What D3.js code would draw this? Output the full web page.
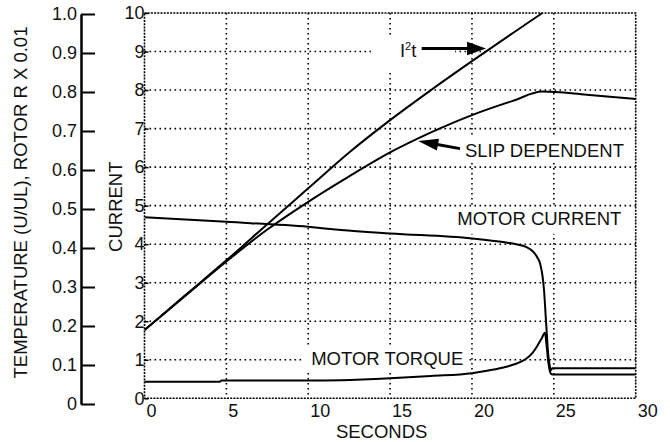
<!DOCTYPE html>
<html lang="en">
<head>
<meta charset="UTF-8">
<title>Motor starting curves</title>
<script src="https://d3js.org/d3.v7.min.js"></script>
<style>
  body { margin: 0; background: #fff; }
  svg { font-family: "Liberation Sans", Arial, sans-serif; }
  .grid line { stroke: #000; stroke-width: 1.6; stroke-dasharray: 1.6,3.4; }
  .frame { fill: none; stroke: #000; stroke-width: 1.6; stroke-dasharray: 2,1.2; }
  .curve { fill: none; stroke: #000; stroke-width: 2; }
  .axis text { font-size: 18px; fill: #111; }
  .label { font-size: 18.5px; fill: #111; }
</style>
</head>
<body>
<div id="chart"></div>
<script>
// tick values
const secTicks = [0, 5, 10, 15, 20, 25, 30];
const currentTicks = [0, 1, 2, 3, 4, 5, 6, 7, 8, 9, 10];
const tempTicks = [0, 0.1, 0.2, 0.3, 0.4, 0.5, 0.6, 0.7, 0.8, 0.9, 1.0];
const tempLabels = ["0", "0.1", "0.2", "0.3", "0.4", "0.5", "0.6", "0.7", "0.8", "0.9", "1.0"];

// series, [seconds, current]
const i2t = [[0,1.77],[2.5,2.68],[5,3.58],[7.5,4.52],[10,5.45],[12.5,6.38],[15,7.22],
  [17.5,8.0],[20,8.75],[22.5,9.48],[24.3,10]];
const slip = [[0,1.77],[2.5,2.66],[5,3.55],[7.5,4.38],[10,5.1],[12.5,5.76],[15,6.38],
  [17.5,6.9],[20,7.35],[22.5,7.72],[24.3,7.96],[27,7.88],[30,7.77]];
const motorCurrent = [[0,4.70],[5,4.58],[10,4.45],[12,4.37],[15,4.28],[20,4.15],[22,4.05],
  [22.7,4.0],[23.3,3.93],[23.75,3.80],[24.0,3.65],[24.16,3.5],[24.3,3.2],[24.4,2.81],
  [24.53,1.95],[24.67,1.08],[24.75,0.85],[24.81,0.72],[24.9,0.78],[30,0.78]];
const motorTorque = [[0,0.43],[4.6,0.43],[4.7,0.46],[10,0.46],[12,0.47],[15,0.52],[17.5,0.58],
  [20,0.65],[21,0.72],[22.1,0.82],[23,0.95],[23.35,1.04],[23.7,1.18],[23.96,1.34],
  [24.25,1.55],[24.46,1.70],[24.55,1.4],[24.67,0.91],[24.8,0.65],[24.9,0.62],[30,0.62]];

const W = 670, H = 442;
const svg = d3.select("#chart").append("svg")
  .attr("width", W).attr("height", H);

const x = d3.scaleLinear().domain([0, 30]).range([144.5, 635.7]);
const y = d3.scaleLinear().domain([0, 10]).range([398.3, 13]);
const yT = d3.scaleLinear().domain([0, 1]).range([404, 14]);

// grid
const grid = svg.append("g").attr("class", "grid");
grid.selectAll(".gx").data(secTicks.slice(1, -1)).enter().append("line")
  .attr("x1", d => x(d)).attr("x2", d => x(d))
  .attr("y1", y(10)).attr("y2", y(0));
grid.selectAll(".gy").data(currentTicks.slice(1, -1)).enter().append("line")
  .attr("x1", x(0)).attr("x2", x(30))
  .attr("y1", d => y(d)).attr("y2", d => y(d));

svg.append("rect").attr("class", "frame")
  .attr("x", x(0)).attr("y", y(10))
  .attr("width", x(30) - x(0)).attr("height", y(0) - y(10));

// white boxes behind the labels
const boxes = [
  [13.83, 18.97, 9.38, 8.47],
  [18.96, 29.65, 6.78, 6.11],
  [18.78, 29.65, 4.94, 4.27],
  [9.68, 19.75, 1.38, 0.68]
];
svg.selectAll(".box").data(boxes).enter().append("rect")
  .attr("x", d => x(d[0])).attr("width", d => x(d[1]) - x(d[0]))
  .attr("y", d => y(d[2])).attr("height", d => y(d[3]) - y(d[2]))
  .attr("fill", "#fff");

// curves
svg.append("clipPath").attr("id", "clip").append("rect")
  .attr("x", x(0)).attr("y", y(10) - 1)
  .attr("width", x(30) - x(0)).attr("height", y(0) - y(10) + 1);

const line = d3.line()
  .x(d => x(d[0])).y(d => y(d[1]))
  .curve(d3.curveMonotoneX);

svg.append("g").attr("clip-path", "url(#clip)")
  .selectAll("path").data([i2t, slip, motorCurrent, motorTorque]).enter()
  .append("path").attr("class", "curve").attr("d", line);

// temperature axis
const tAxis = svg.append("g").attr("class", "axis")
  .attr("transform", "translate(81,0)")
  .call(d3.axisLeft(yT).tickValues(tempTicks).tickFormat((d, i) => tempLabels[i])
    .tickSizeInner(-14).tickSizeOuter(0).tickPadding(4));
tAxis.select(".domain").attr("stroke-width", 2.5);
tAxis.selectAll(".tick line").attr("stroke-width", 2);
tAxis.selectAll("text").attr("font-size", 18).attr("font-family", null);

// current axis
const cAxis = svg.append("g").attr("class", "axis")
  .attr("transform", `translate(${x(0)},0)`)
  .call(d3.axisLeft(y).tickValues(currentTicks).tickFormat(d3.format("d"))
    .tickSizeInner(-4).tickSizeOuter(0).tickPadding(0));
cAxis.select(".domain").remove();
cAxis.selectAll(".tick line").attr("stroke-width", 1.5);
cAxis.selectAll("text").attr("font-size", 18).attr("font-family", null);

// seconds axis
const sAxis = svg.append("g").attr("class", "axis")
  .attr("transform", `translate(0,${y(0)})`)
  .call(d3.axisBottom(x).tickValues(secTicks).tickSize(0).tickPadding(6));
sAxis.select(".domain").remove();
sAxis.selectAll("text").attr("font-size", 18).attr("font-family", null)
  .attr("text-anchor", "start").attr("dx", 1.5);

// axis titles
svg.append("text").attr("class", "label")
  .attr("x", 381.7).attr("y", 437.5).attr("font-size", 18)
  .attr("text-anchor", "middle").text("SECONDS");
svg.append("text").attr("class", "label")
  .attr("transform", "translate(121.7,206.7) rotate(-90)")
  .attr("text-anchor", "middle").text("CURRENT");
svg.append("text").attr("class", "label")
  .attr("transform", "translate(27,202.5) rotate(-90)")
  .attr("text-anchor", "middle").text("TEMPERATURE (U/UL), ROTOR R X 0.01");

// annotations
function arrow(t0, v0, t1, v1, headLen, headW) {
  const x0 = x(t0), y0 = y(v0), x1 = x(t1), y1 = y(v1);
  const len = Math.hypot(x1 - x0, y1 - y0);
  const ux = (x1 - x0) / len, uy = (y1 - y0) / len;
  const bx = x1 - ux * headLen, by = y1 - uy * headLen;
  svg.append("line").attr("x1", x0).attr("y1", y0).attr("x2", bx + ux * 2).attr("y2", by + uy * 2)
    .attr("stroke", "#000").attr("stroke-width", 3);
  svg.append("path")
    .attr("d", `M${x1},${y1}L${bx - uy * headW},${by + ux * headW}L${bx + uy * headW},${by - ux * headW}Z`)
    .attr("fill", "#000");
}

const i2tLabel = svg.append("text").attr("class", "label")
  .attr("x", x(15.6)).attr("y", y(8.86));
i2tLabel.append("tspan").text("I");
i2tLabel.append("tspan").attr("font-size", 11).attr("dy", -7).text("2");
i2tLabel.append("tspan").attr("dy", 7).text("t");
arrow(16.93, 9.08, 20.86, 9.08, 19, 6.7);

svg.append("text").attr("class", "label")
  .attr("x", x(19.57)).attr("y", y(6.27)).text("SLIP DEPENDENT");
arrow(19.27, 6.48, 16.72, 6.68, 20, 6);

svg.append("text").attr("class", "label")
  .attr("x", x(19.1)).attr("y", y(4.50)).text("MOTOR CURRENT");

svg.append("text").attr("class", "label")
  .attr("x", x(19.47)).attr("y", y(0.86)).attr("text-anchor", "end").text("MOTOR TORQUE");
</script>
</body>
</html>
